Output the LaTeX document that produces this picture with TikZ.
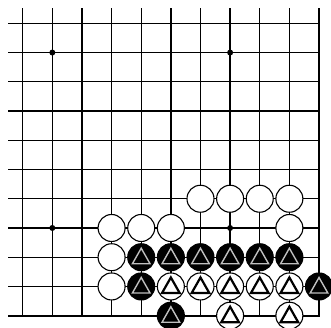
\documentclass[tikz,border=0pt]{standalone}
\begin{document}
\begin{tikzpicture}[x=1pt,y=-1pt,
  gridline/.style={line width=1.4pt,black},
  edgeline/.style={line width=2.4pt,black},
  stone/.style={circle,draw=black,line width=1.1pt,minimum size=27pt,inner sep=0pt},
  wstone/.style={stone,fill=white},
  bstone/.style={stone,fill=black},
  wtri/.style={draw=black,line width=2.2pt,line join=miter},
  btri/.style={draw=white!75!black,line width=1.4pt,line join=miter},
  hoshi/.style={circle,fill=black,minimum size=6pt,inner sep=0pt}]
\clip (0,0) rectangle (331,327);
\fill[white] (0,0) rectangle (331,327);
% grid
\foreach \i in {0,...,9}
  \draw[gridline] ({22.7+29.63*\i},8) -- ({22.7+29.63*\i},315.7);
\foreach \j in {0,...,9}
  \draw[gridline] (8,{23.3+29.24*\j}) -- (319,{23.3+29.24*\j});
\draw[edgeline] (319,8) -- (319,315.7) -- (8,315.7);
% star points
\foreach \c/\r/\n in {1/1/a,7/1/b,1/7/c,7/7/d}
  \node[hoshi] (h\n) at ({22.7+29.63*\c},{23.3+29.24*\r}) {};
% plain white stones
\foreach \c/\r in {6/6,7/6,8/6,9/6,3/7,4/7,5/7,9/7,3/8,3/9}
  \node[wstone] (w\c-\r) at ({22.7+29.63*\c},{23.3+29.24*\r}) {};
% black stones with triangles
\foreach \c/\r in {4/8,5/8,6/8,7/8,8/8,9/8,4/9,10/9,5/10}{
  \node[bstone] (b\c-\r) at ({22.7+29.63*\c},{23.3+29.24*\r}) {};
  \draw[btri] ([shift={(0,-9)}]b\c-\r.center) -- ([shift={(8.8,6.5)}]b\c-\r.center)
     -- ([shift={(-8.8,6.5)}]b\c-\r.center) -- cycle;
}
% white stones with triangles
\foreach \c/\r in {5/9,6/9,7/9,8/9,9/9,7/10,9/10}{
  \node[wstone] (t\c-\r) at ({22.7+29.63*\c},{23.3+29.24*\r}) {};
  \draw[wtri] ([shift={(0,-9)}]t\c-\r.center) -- ([shift={(8.8,6.5)}]t\c-\r.center)
     -- ([shift={(-8.8,6.5)}]t\c-\r.center) -- cycle;
}
\end{tikzpicture}
\end{document}
